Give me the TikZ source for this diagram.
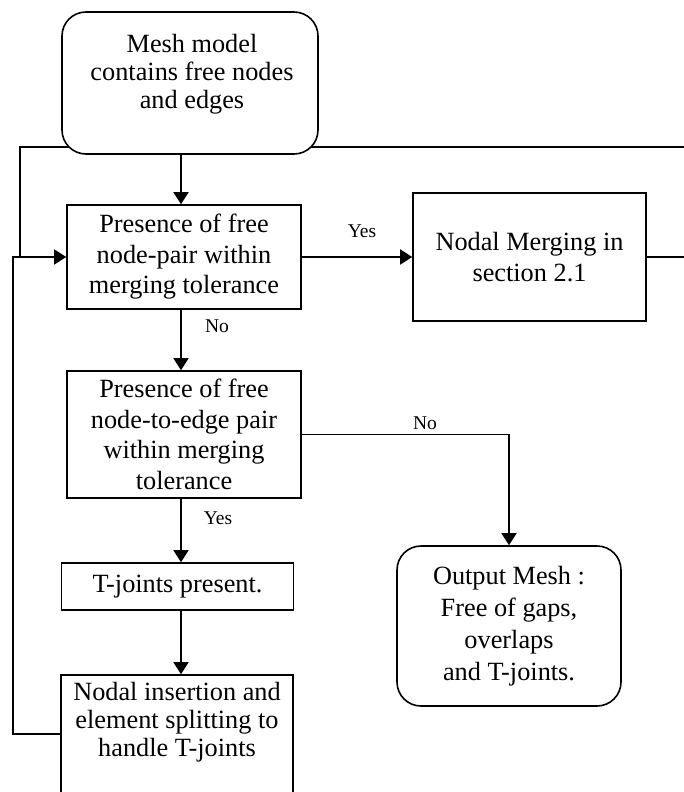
\documentclass[tikz,border=0pt]{standalone}
\usepackage{fontspec}
\setmainfont{Liberation Serif}
\usetikzlibrary{arrows.meta}
\tikzset{
  boxstyle/.style={draw, line width=1.6pt, fill=white, align=center, inner sep=0pt,
    font=\fontsize{26.3}{30.5}\selectfont},
  rboxstyle/.style={boxstyle, rounded corners=24pt},
  txtstyle/.style={align=center, inner sep=0pt, font=\fontsize{26.3}{28}\selectfont},
  lblstyle/.style={inner sep=0pt, font=\fontsize{19.5}{22}\selectfont},
  conn/.style={line width=1.6pt},
  arr/.style={conn, -{Triangle[length=12pt,width=15pt]}}
}
\begin{document}
\begin{tikzpicture}[x=1pt,y=-1pt]
\useasboundingbox (0,0) rectangle (684,792);
\clip (0,0) rectangle (684,792);
\coordinate (cx) at (181,0);
\coordinate (ly) at (0,734);

% nodes (except top box, which is drawn over the loop line)
\node[boxstyle, minimum width=234pt, minimum height=104pt] (b1) at (184,257)
  {Presence of free\\node-pair within\\merging tolerance};
\node[boxstyle, minimum width=233pt, minimum height=128pt] (merge) at (529.5,257)
  {Nodal Merging in\\section 2.1};
\node[boxstyle, minimum width=234pt, minimum height=127pt] (b2) at (184,434.5)
  {Presence of free\\node-to-edge pair\\within merging\\tolerance};
\node[rboxstyle, minimum width=224pt, minimum height=160pt, font=\fontsize{26.3}{32}\selectfont] (out) at (509,626)
  {Output Mesh :\\Free of gaps,\\overlaps\\and T-joints.};
\node[boxstyle, minimum width=232pt, minimum height=47pt] (b3) at (177.5,586.5)
  {T-joints present.};
\node[boxstyle, minimum width=232pt, minimum height=155pt] (b4) at (177,752.5) {};
\node[txtstyle] (b4text) at (177,722)
  {Nodal insertion and\\element splitting to\\handle T-joints};

% loop from Nodal Merging back to the first test
\draw[conn] (merge.east) -- (720,257) -- (720,147) -- (20,147) -- (20,257);
% loop from nodal insertion back to the first test
\draw[arr] (b4.west |- ly) -- (13,734) -- (13,257) -- (b1.west);

% top box
\node[rboxstyle, minimum width=256pt, minimum height=142pt] (top) at (190,83) {};
\node[txtstyle] (toptext) at (192,74)
  {Mesh model\\contains free nodes\\and edges};

% connectors
\draw[arr] (top.south -| cx) -- (b1.north -| cx);
\draw[arr] (b1.east) -- (merge.west);
\draw[arr] (b1.south -| cx) -- (b2.north -| cx);
\draw[arr] (b2.east) -| (out.north);
\draw[arr] (b2.south -| cx) -- (b3.north -| cx);
\draw[arr] (b3.south -| cx) -- (b4.north -| cx);

% labels
\node[lblstyle] (lyes1) at (362,231) {Yes};
\node[lblstyle] (lno1) at (217,326) {No};
\node[lblstyle] (lno2) at (425,423) {No};
\node[lblstyle] (lyes2) at (218,518) {Yes};
\end{tikzpicture}
\end{document}
